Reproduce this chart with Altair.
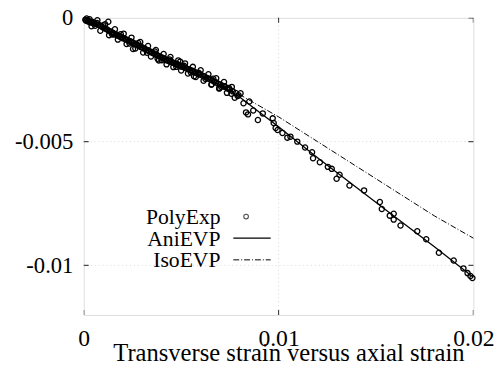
import altair as alt
import pandas as pd

# ---------------- data ----------------
exp_x = [0.00008, 0.00012, 0.00018, 0.00022, 0.00027, 0.00031, 0.00036, 0.00041, 0.00046, 0.00052,
         0.00060, 0.00068, 0.00075, 0.00083, 0.00090, 0.00097, 0.00105, 0.00112, 0.00120, 0.00128,
         0.00135, 0.00142, 0.00150, 0.00157, 0.00165, 0.00172, 0.00180, 0.00187, 0.00195, 0.00202,
         0.00210, 0.00217, 0.00225, 0.00232, 0.00240, 0.00247, 0.00255, 0.00262, 0.00270, 0.00277,
         0.00285, 0.00292, 0.00300, 0.00307, 0.00315, 0.00322, 0.00330, 0.00337, 0.00345, 0.00352,
         0.00360, 0.00367, 0.00375, 0.00382, 0.00390, 0.00397, 0.00405, 0.00412, 0.00420, 0.00427,
         0.00435, 0.00442, 0.00450, 0.00457, 0.00465, 0.00472, 0.00480, 0.00487, 0.00495, 0.00502,
         0.00510, 0.00517, 0.00525, 0.00532, 0.00540, 0.00547, 0.00555, 0.00562, 0.00570, 0.00577,
         0.00585, 0.00592, 0.00600, 0.00610, 0.00620, 0.00630, 0.00640, 0.00650, 0.00660, 0.00670,
         0.00680, 0.00690, 0.00700, 0.00712, 0.00725, 0.00738, 0.00750, 0.00765, 0.00780, 0.00795,
         0.00015, 0.00040, 0.00070, 0.00085, 0.00110, 0.00130, 0.00160, 0.00175, 0.00205, 0.00220,
         0.00245, 0.00265, 0.00290, 0.00305, 0.00330, 0.00345, 0.00370, 0.00385, 0.00410, 0.00425,
         0.00445, 0.00460, 0.00485, 0.00500, 0.00520, 0.00535, 0.00560, 0.00575, 0.00600, 0.00615,
         0.00640, 0.00655, 0.00680, 0.00695, 0.00720, 0.00735, 0.00760, 0.00775, 0.00805, 0.00820,
         0.00850, 0.00870,
         0.00030, 0.00058, 0.00100, 0.00145, 0.00190, 0.00235, 0.00280, 0.00325, 0.00365, 0.00400,
         0.00440, 0.00475, 0.00515, 0.00550, 0.00590, 0.00625, 0.00665, 0.00705, 0.00745, 0.00790,
         0.00126, 0.00152, 0.00253, 0.00379, 0.00495, 0.00566, 0.00657, 0.00697, 0.00722, 0.00758,
         0.00833, 0.00843, 0.00894, 0.00919, 0.00985,
         0.00970, 0.00975, 0.00995, 0.01020, 0.01045, 0.01061, 0.01096, 0.01136, 0.01172, 0.01177,
         0.01212, 0.01253, 0.01273, 0.01298, 0.01313, 0.01364, 0.01439, 0.01520, 0.01530, 0.01571,
         0.01591, 0.01591, 0.01626, 0.01712, 0.01758, 0.01823, 0.01899, 0.01949, 0.01970, 0.01985,
         0.01995]
exp_y = [-0.00008, -0.00012, -0.00010, -0.00015, -0.00013, -0.00018, -0.00016, -0.00020, -0.00017, -0.00022,
         -0.00024, -0.00021, -0.00028, -0.00031, -0.00034, -0.00038, -0.00041, -0.00044, -0.00047, -0.00052,
         -0.00054, -0.00058, -0.00060, -0.00065, -0.00066, -0.00071, -0.00072, -0.00077, -0.00078, -0.00083,
         -0.00084, -0.00088, -0.00090, -0.00094, -0.00095, -0.00100, -0.00101, -0.00106, -0.00107, -0.00112,
         -0.00113, -0.00118, -0.00119, -0.00124, -0.00125, -0.00130, -0.00131, -0.00136, -0.00137, -0.00142,
         -0.00143, -0.00148, -0.00149, -0.00154, -0.00155, -0.00160, -0.00161, -0.00166, -0.00167, -0.00172,
         -0.00172, -0.00177, -0.00177, -0.00182, -0.00182, -0.00187, -0.00187, -0.00192, -0.00192, -0.00197,
         -0.00198, -0.00202, -0.00203, -0.00207, -0.00208, -0.00212, -0.00213, -0.00218, -0.00219, -0.00223,
         -0.00224, -0.00229, -0.00229, -0.00234, -0.00237, -0.00242, -0.00245, -0.00250, -0.00253, -0.00258,
         -0.00261, -0.00266, -0.00269, -0.00274, -0.00279, -0.00285, -0.00290, -0.00297, -0.00304, -0.00313,
         -0.00003, -0.00034, -0.00010, -0.00052, -0.00026, -0.00070, -0.00046, -0.00088, -0.00064, -0.00106,
         -0.00080, -0.00124, -0.00098, -0.00140, -0.00114, -0.00156, -0.00130, -0.00172, -0.00146, -0.00188,
         -0.00158, -0.00199, -0.00172, -0.00213, -0.00184, -0.00225, -0.00198, -0.00239, -0.00212, -0.00254,
         -0.00228, -0.00270, -0.00244, -0.00286, -0.00259, -0.00303, -0.00279, -0.00323, -0.00305, -0.00345,
         -0.00338, -0.00374,
         -0.00006, -0.00032, -0.00030, -0.00066, -0.00066, -0.00104, -0.00102, -0.00141, -0.00136, -0.00171,
         -0.00168, -0.00198, -0.00194, -0.00221, -0.00222, -0.00247, -0.00246, -0.00278, -0.00283, -0.00316,
         -0.00016, -0.00067, -0.00126, -0.00165, -0.00177, -0.00236, -0.00268, -0.00283, -0.00276, -0.00307,
         -0.00382, -0.00390, -0.00413, -0.00386, -0.00445,
         -0.00406, -0.00425, -0.00453, -0.00465, -0.00484, -0.00480, -0.00500, -0.00524, -0.00543, -0.00567,
         -0.00583, -0.00602, -0.00610, -0.00650, -0.00634, -0.00677, -0.00697, -0.00744, -0.00772, -0.00799,
         -0.00791, -0.00815, -0.00839, -0.00862, -0.00894, -0.00949, -0.00980, -0.01012, -0.01031, -0.01043,
         -0.01051]

ani_x = [0, 0.001, 0.002, 0.003, 0.004, 0.005, 0.006, 0.007, 0.008, 0.009, 0.010, 0.012, 0.014, 0.016, 0.018, 0.020]
ani_y = [0, -0.0004, -0.0008, -0.0012, -0.0016, -0.00195, -0.0023, -0.0027, -0.0032, -0.0038, -0.0044,
         -0.00565, -0.00685, -0.00805, -0.00925, -0.01048]

iso_x = [0, 0.001, 0.002, 0.003, 0.004, 0.005, 0.006, 0.007, 0.008, 0.009, 0.010, 0.012, 0.014, 0.016, 0.018, 0.020]
iso_y = [0, -0.0004, -0.0008, -0.0012, -0.0016, -0.00195, -0.0023, -0.0027, -0.0031, -0.00355, -0.0040,
         -0.0050, -0.0060, -0.0070, -0.0080, -0.0089]

x_ticks = [0, 0.01, 0.02]
y_ticks = [0, -0.005, -0.01]
x_domain = [0, 0.02]
y_domain = [-0.012, 0]

series_names = ["PolyExp", "AniEVP", "IsoEVP"]
x_title = "Transverse strain versus axial strain"

FONT = "Liberation Serif, Times New Roman, Times, serif"
W, H = 396, 302

exp_df = pd.DataFrame({"x": exp_x, "y": exp_y})
ani_df = pd.DataFrame({"x": ani_x, "y": ani_y})
iso_df = pd.DataFrame({"x": iso_x, "y": iso_y})

xs = alt.Scale(domain=x_domain, nice=False, zero=False)
ys = alt.Scale(domain=y_domain, nice=False, zero=False)

xaxis = alt.Axis(values=x_ticks, format="~g", grid=False, ticks=False, tickSize=0, domain=False,
                 labelFont=FONT, labelFontSize=24, labelColor="black", labelPadding=12,
                 labelFlush=False, title=x_title, titleFont=FONT, titleFontSize=25,
                 titleFontWeight="normal", titleColor="black", titleBaseline="alphabetic",
                 titleY=46, titleX=W / 2 + 10)
yaxis = alt.Axis(values=y_ticks, format="~g", grid=False, ticks=False, tickSize=0, domain=False,
                 labelFont=FONT, labelFontSize=23, labelColor="black", labelPadding=11,
                 labelExpr="replace(datum.label, '\u2212', '-')", title=None)

X = alt.X("x:Q", scale=xs, axis=xaxis)
Y = alt.Y("y:Q", scale=ys, axis=yaxis)

# grid (interior ticks only)
gx = pd.DataFrame({"x": [v for v in x_ticks if x_domain[0] < v < x_domain[1]]})
gy = pd.DataFrame({"y": [v for v in y_ticks if y_domain[0] < v < y_domain[1]]})
grid_x = alt.Chart(gx).mark_rule(color="#cfcfcf", strokeDash=[1, 3], strokeWidth=0.8).encode(x=X)
grid_y = alt.Chart(gy).mark_rule(color="#cfcfcf", strokeDash=[1, 3], strokeWidth=0.8).encode(y=Y)

# inward ticks
tl = pd.DataFrame({"y": y_ticks * 2, "x": [x_domain[0]] * 3 + [x_domain[1]] * 3})
tb = pd.DataFrame({"x": x_ticks * 2, "y": [y_domain[0]] * 3 + [y_domain[1]] * 3})
ticks_y = alt.Chart(tl).mark_tick(orient="horizontal", size=10, thickness=1.2, color="black", clip=True).encode(
    x=X, y=Y)
ticks_x = alt.Chart(tb).mark_tick(orient="vertical", size=10, thickness=1.2, color="black", clip=True).encode(
    x=X, y=Y)

pts = alt.Chart(exp_df).mark_point(shape="circle", filled=False, color="black", size=28,
                                   strokeWidth=1.3, opacity=1).encode(x=X, y=Y)
ani = alt.Chart(ani_df).mark_line(color="black", strokeWidth=1.3).encode(x=X, y=Y)
iso = alt.Chart(iso_df).mark_line(color="black", strokeWidth=1, strokeDash=[6, 2, 1, 2]).encode(x=X, y=Y)

# legend
leg_df = pd.DataFrame({"name": series_names})
leg_rows_y = [203, 225, 246]
leg_layers = []
for i, yy in enumerate(leg_rows_y):
    leg_layers.append(
        alt.Chart(leg_df.iloc[[i]]).mark_text(font=FONT, fontSize=22, align="right", baseline="middle",
                                              color="black").encode(
            text="name:N", x=alt.value(139), y=alt.value(yy)))
leg_pt = alt.Chart(leg_df.iloc[[0]]).mark_point(shape="circle", filled=False, color="black", size=22,
                                                strokeWidth=1.1).encode(x=alt.value(165), y=alt.value(202))
leg_ani = alt.Chart(leg_df.iloc[[1]]).mark_rule(color="black", strokeWidth=1.3).encode(
    x=alt.value(152), x2=alt.value(190), y=alt.value(224))
leg_iso = alt.Chart(leg_df.iloc[[2]]).mark_rule(color="black", strokeWidth=1, strokeDash=[6, 2, 1, 2]).encode(
    x=alt.value(152), x2=alt.value(190), y=alt.value(246))

chart = alt.layer(grid_x, grid_y, ani, iso, pts, ticks_y, ticks_x,
                  *leg_layers, leg_pt, leg_ani, leg_iso).properties(
    width=W, height=H,
    autosize=alt.AutoSizeParams(type="none"),
    padding={"left": 77, "top": 7, "right": 23, "bottom": 54},
).configure_view(stroke="black", strokeWidth=1.6).configure(background="white")

chart.save("out.html", embed_options={"renderer": "svg", "actions": False})
